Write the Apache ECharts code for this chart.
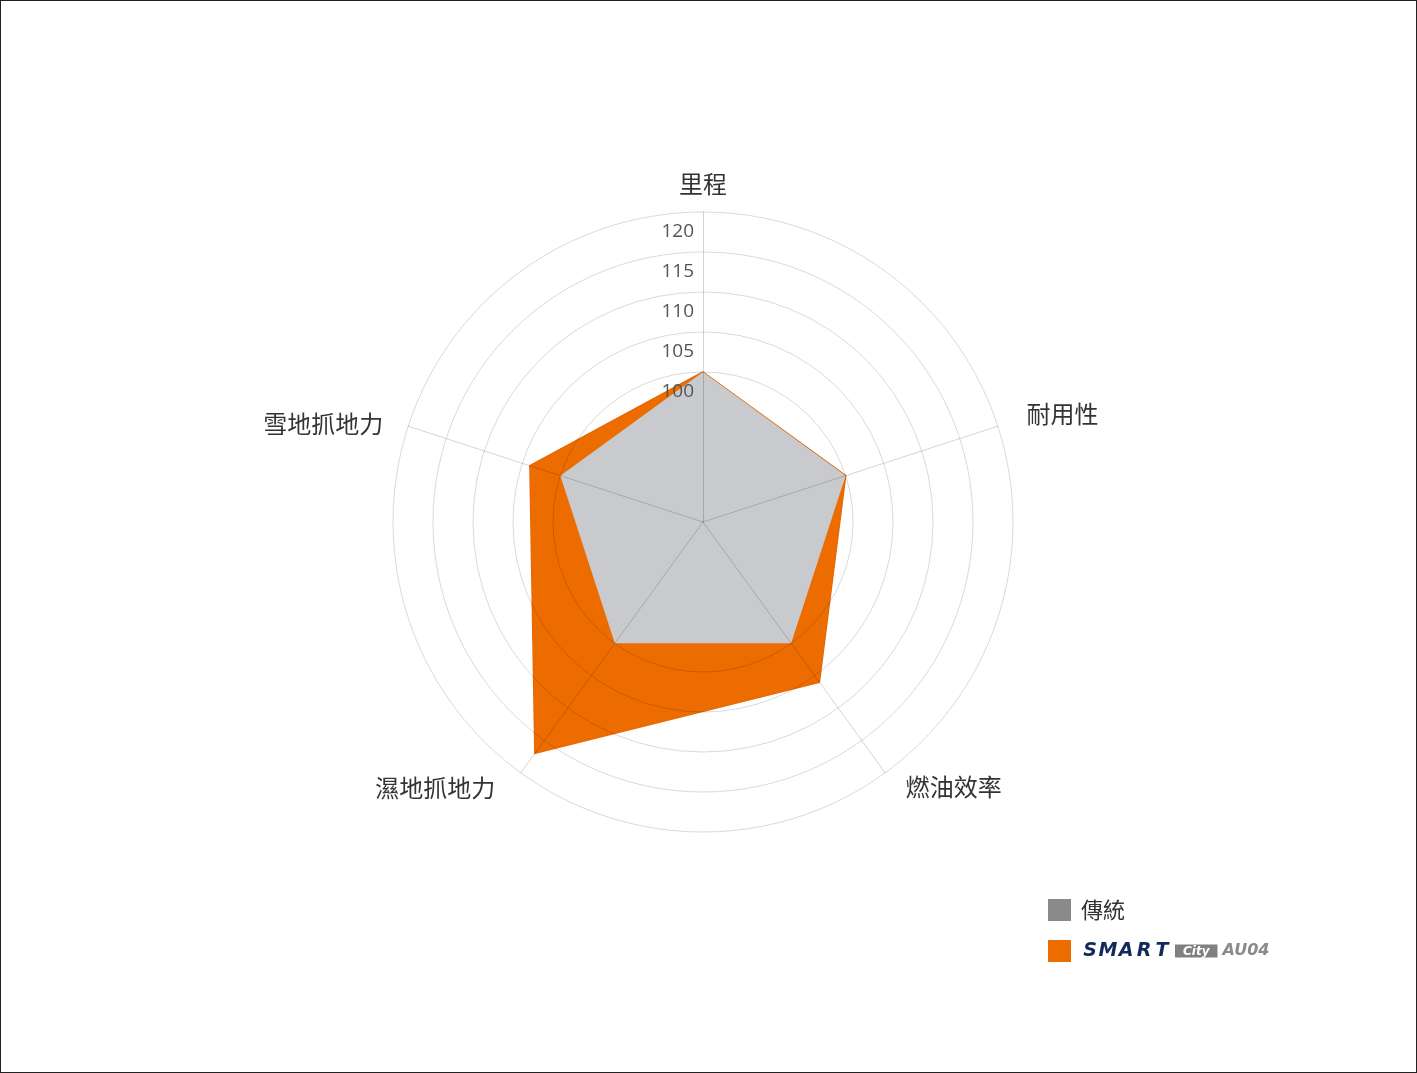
<!DOCTYPE html>
<html>
<head>
<meta charset="utf-8">
<script src="https://cdn.jsdelivr.net/npm/echarts@6/dist/echarts.min.js"></script>
<style>
html,body{margin:0;padding:0;background:#fff;}
#chart{width:1417px;height:1073px;box-sizing:border-box;border:1px solid #222;}
</style>
</head>
<body>
<div id="chart"></div>
<script>
// indicators in ECharts order (counter-clockwise from top)
var categories = ['里程', '雪地抓地力', '濕地抓地力', '燃油效率', '耐用性'];
var seriesNames = ['傳統', 'SMART City AU04'];
var traditionalValues = [100, 100, 100, 100, 100];
var smartValues = [100, 104, 117, 106, 100];
var tickLabels = [100, 105, 110, 115, 120];
var axisMin = 81.25;
var axisMax = 120;
var axisStep = 1.25;

var nameTweaks = [
  { gap: 16, padding: [0, 0, 0, 0] },
  { gap: 20, padding: [8, 6, 0, 0] },
  { gap: 18, padding: [2, 15, 0, 0] },
  { gap: 18, padding: [0, 0, 0, 10] },
  { gap: 28, padding: [0, 0, 8, 2] }
];

var splitCount = Math.round((axisMax - axisMin) / axisStep);
var ringColors = [];
for (var i = 0; i <= splitCount; i++) {
  var v = axisMin + i * axisStep;
  var shown = tickLabels.some(function (t) { return Math.abs(t - v) < 1e-6; });
  ringColors.push(shown ? 'rgba(0,0,0,0.15)' : 'rgba(0,0,0,0)');
}

var nameRich = {};
nameTweaks.forEach(function (t, idx) {
  nameRich['n' + idx] = {
    color: '#333', fontSize: 24, fontFamily: 'Noto Sans CJK TC, sans-serif',
    padding: t.padding
  };
});

var indicators = categories.map(function (c, idx) {
  var ind = {
    name: c, min: axisMin, max: axisMax,
    nameGap: nameTweaks[idx].gap
  };
  if (idx === 0) {
    ind.axisLabel = {
      show: true,
      color: '#555',
      fontSize: 19,
      fontFamily: 'Open Sans, Noto Sans CJK TC, sans-serif',
      margin: 9,
      verticalAlign: 'top',
      padding: [10, 0, 0, 0],
      formatter: function (val) {
        var hit = tickLabels.some(function (t) { return Math.abs(t - val) < 1e-6; });
        return hit ? String(Math.round(val)) : '';
      }
    };
  }
  return ind;
});

var chart = echarts.init(document.getElementById('chart'), null, { renderer: 'canvas' });
chart.setOption({
  backgroundColor: '#ffffff',
  animation: false,
  legend: {
    orient: 'vertical',
    left: 1047,
    top: 898,
    padding: 0,
    itemWidth: 23,
    itemHeight: 22,
    itemGap: 19,
    icon: 'rect',
    selectedMode: false,
    data: [
      { name: seriesNames[0], itemStyle: { color: '#8a8a8a' } },
      { name: seriesNames[1], itemStyle: { color: '#ec6c00' } }
    ],
    formatter: function (name) {
      if (name === seriesNames[1]) {
        return '{s|S}{s|M}{s|A}{s|R}{s|T}{g| }{c|City}{a|AU04}';
      }
      return '{t|' + name + '}';
    },
    textStyle: {
      padding: [0, 0, 0, 5],
      rich: {
        t: { fontSize: 22, color: '#333', fontFamily: 'Noto Sans CJK TC, sans-serif' },
        s: { fontSize: 19, fontWeight: 'bold', fontStyle: 'italic', color: '#14285a', fontFamily: 'DejaVu Sans, sans-serif', width: 18, align: 'center' },
        g: { width: 4 },
        c: { fontSize: 12, fontWeight: 'bold', fontStyle: 'italic', color: '#ffffff', backgroundColor: '#808080', padding: [1, 8, 0, 8], fontFamily: 'DejaVu Sans, sans-serif' },
        a: { fontSize: 16, fontWeight: 'bold', fontStyle: 'italic', color: '#8a8a8a', padding: [0, 0, 0, 5], fontFamily: 'DejaVu Sans, sans-serif' }
      }
    }
  },
  radar: {
    z: 3,
    center: [702, 521],
    radius: 310,
    shape: 'circle',
    splitNumber: splitCount,
    indicator: indicators,
    axisName: {
      color: '#333',
      fontSize: 24,
      fontFamily: 'Noto Sans CJK TC, sans-serif',
      formatter: function (name) {
        return '{n' + categories.indexOf(name) + '|' + name + '}';
      },
      rich: nameRich
    },
    axisLine: { lineStyle: { color: 'rgba(0,0,0,0.17)', width: 1 } },
    axisTick: { show: false },
    axisLabel: { show: false },
    splitLine: { lineStyle: { color: ringColors, width: 1 } },
    splitArea: { show: false }
  },
  series: [{
    type: 'radar',
    z: 2,
    symbol: 'none',
    data: [
      {
        name: seriesNames[1],
        value: smartValues,
        itemStyle: { color: '#ec6c00' },
        lineStyle: { color: '#e46400', width: 1.5 },
        areaStyle: { color: '#ec6c00', opacity: 1 }
      },
      {
        name: seriesNames[0],
        value: traditionalValues,
        itemStyle: { color: '#8a8a8a' },
        lineStyle: { width: 0, color: '#c8cacd' },
        areaStyle: { color: '#c8cacd', opacity: 1 }
      }
    ]
  }]
});
</script>
</body>
</html>
